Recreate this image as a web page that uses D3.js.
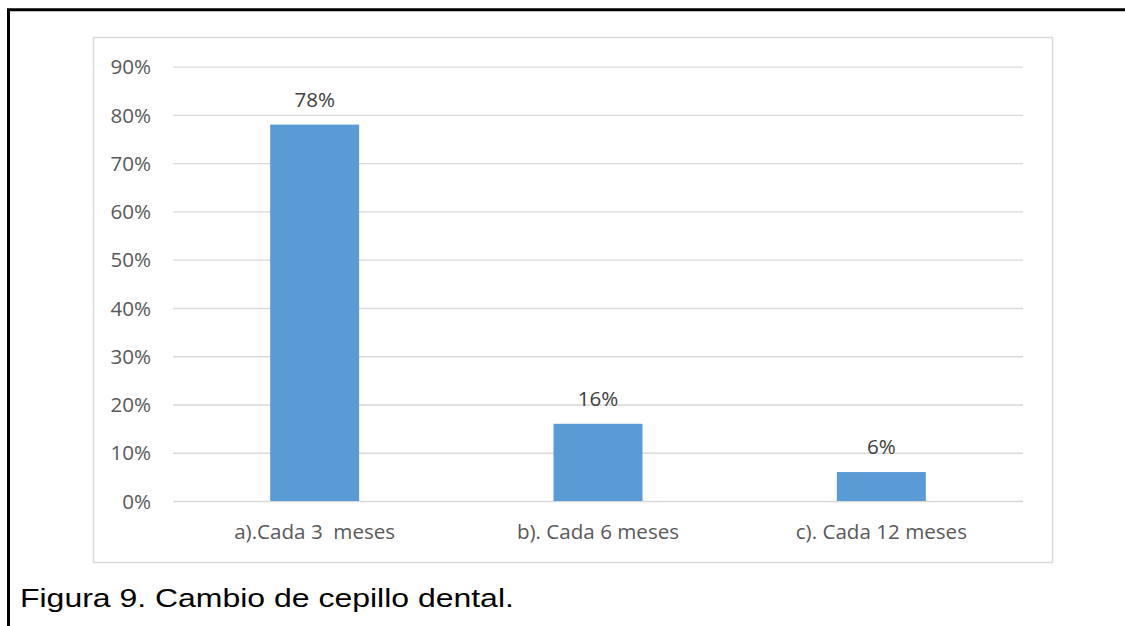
<!DOCTYPE html>
<html>
<head>
<meta charset="utf-8">
<script src="https://cdn.jsdelivr.net/npm/d3@7"></script>
<style>
  body { margin: 0; background: #fff; }
  svg { display: block; }
  .tick-label { font-family: "Open Sans", sans-serif; font-size: 20.6px; fill: #595959; white-space: pre; }
  .data-label { font-family: "Open Sans", sans-serif; font-size: 20.6px; fill: #404040; }
  .caption { font-family: "Liberation Sans", Arial, sans-serif; font-size: 26px; fill: #000; }
</style>
</head>
<body>
<div id="chart"></div>
<script>
const categories = ['a).Cada 3  meses', 'b). Cada 6 meses', 'c). Cada 12 meses'];
const values = [0.78, 0.16, 0.06];
const yTicks = [0, 0.1, 0.2, 0.3, 0.4, 0.5, 0.6, 0.7, 0.8, 0.9];
const caption = 'Figura 9. Cambio de cepillo dental.';

const width = 1125;
const height = 626;
const plot = { left: 173, right: 1023, top: 66.7, bottom: 501 };

const svg = d3.select('#chart')
  .append('svg')
  .attr('width', width)
  .attr('height', height);

// outer frame (left + top edges only are visible)
svg.append('path')
  .attr('d', `M8.5,${height} L8.5,9.8 L${width},9.8`)
  .attr('fill', 'none')
  .attr('stroke', '#000')
  .attr('stroke-width', 3);

// chart area border
svg.append('rect')
  .attr('x', 93.5)
  .attr('y', 37.5)
  .attr('width', 959)
  .attr('height', 525)
  .attr('fill', '#fff')
  .attr('stroke', '#d9d9d9')
  .attr('stroke-width', 1.5);

const x = d3.scaleBand()
  .domain(categories)
  .range([plot.left, plot.right])
  .paddingInner(0.686)
  .paddingOuter(0.343);

const y = d3.scaleLinear()
  .domain([0, 0.9])
  .range([plot.bottom, plot.top]);

const yAxis = svg.append('g')
  .attr('transform', `translate(${plot.left},0)`)
  .call(
    d3.axisLeft(y)
      .tickValues(yTicks)
      .tickSize(-(plot.right - plot.left))
      .tickPadding(22)
      .tickFormat(d3.format('.0%')),
  );

yAxis.select('.domain').remove();
yAxis.selectAll('.tick line')
  .attr('stroke', '#d9d9d9')
  .attr('stroke-width', 1.3);
yAxis.selectAll('.tick text')
  .attr('class', 'tick-label')
  .attr('font-family', null)
  .attr('font-size', null)
  .attr('fill', null)
  .attr('dy', '0.35em');

svg.append('g')
  .selectAll('rect')
  .data(values)
  .join('rect')
  .attr('x', (d, i) => x(categories[i]))
  .attr('y', (d) => y(d))
  .attr('width', x.bandwidth())
  .attr('height', (d) => y(0) - y(d))
  .attr('fill', '#5b9bd5');

svg.append('g')
  .selectAll('text')
  .data(values)
  .join('text')
  .attr('class', 'data-label')
  .attr('x', (d, i) => x(categories[i]) + x.bandwidth() / 2)
  .attr('y', (d) => y(d) - 18)
  .attr('text-anchor', 'middle')
  .text((d) => d3.format('.0%')(d));

const xAxis = svg.append('g')
  .attr('transform', `translate(0,${plot.bottom})`)
  .call(d3.axisBottom(x).tickSize(0).tickPadding(0));

xAxis.select('.domain').remove();
xAxis.selectAll('.tick text')
  .attr('class', 'tick-label')
  .attr('font-family', null)
  .attr('font-size', null)
  .attr('fill', null)
  .attr('y', 38)
  .attr('dy', 0);

// caption is a bit wider than plain Arial in the source, so stretch it
svg.append('text')
  .attr('class', 'caption')
  .attr('transform', 'translate(20,607) scale(1.23,1)')
  .text(caption);
</script>
</body>
</html>
